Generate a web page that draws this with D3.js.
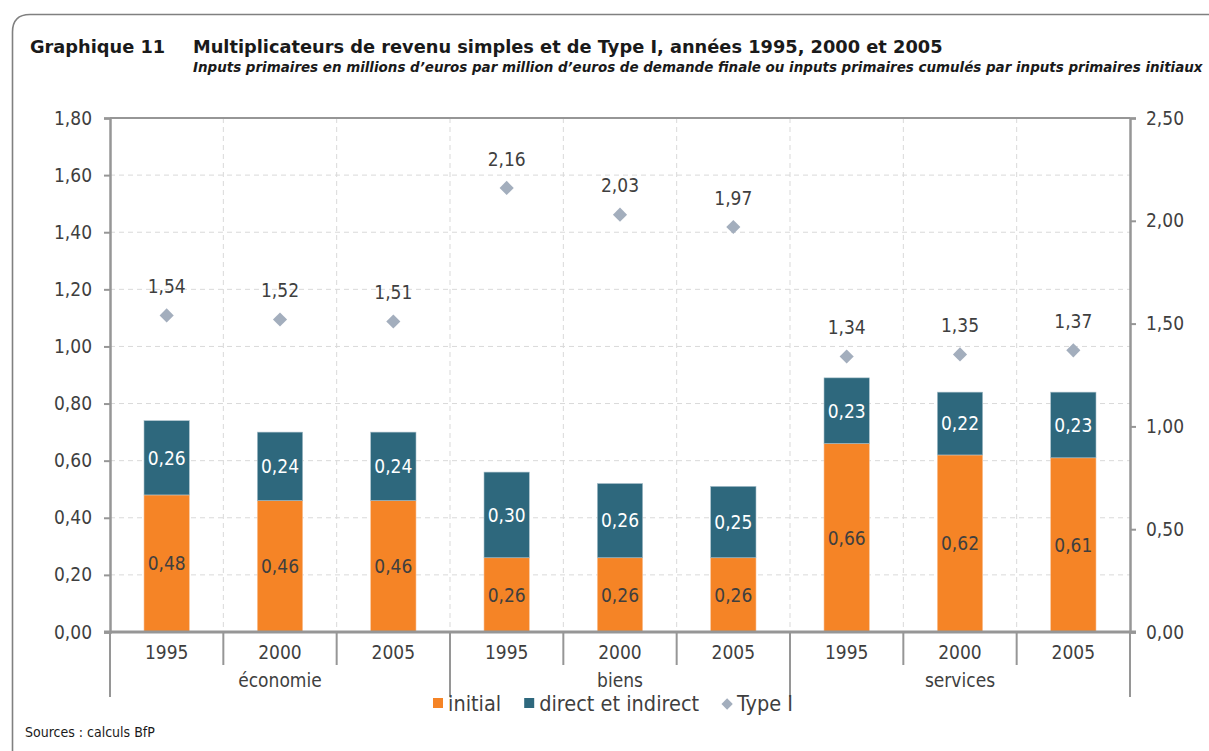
<!DOCTYPE html>
<html>
<head>
<meta charset="utf-8">
<script src="https://cdn.jsdelivr.net/npm/d3@7"></script>
<style>
  html, body { margin: 0; padding: 0; background: #fff; }
  svg { display: block; font-family: "DejaVu Sans Condensed", "DejaVu Sans", sans-serif; }
</style>
</head>
<body>
<svg id="chart" width="1209" height="751"></svg>
<script>
// Income multipliers by sector and year
const groups = ["économie", "biens", "services"];
const years = ["1995", "2000", "2005"];
const initial = [0.48, 0.46, 0.46, 0.26, 0.26, 0.26, 0.66, 0.62, 0.61];
const directIndirect = [0.26, 0.24, 0.24, 0.30, 0.26, 0.25, 0.23, 0.22, 0.23];
const typeI = [1.54, 1.52, 1.51, 2.16, 2.03, 1.97, 1.34, 1.35, 1.37];
const leftTicks = [0, 0.2, 0.4, 0.6, 0.8, 1.0, 1.2, 1.4, 1.6, 1.8];
const rightTicks = [0, 0.5, 1.0, 1.5, 2.0, 2.5];
const seriesNames = ["initial", "direct et indirect", "Type I"];

const COL_INIT = "#F58426";
const COL_DI = "#2E687D";
const COL_T1 = "#A3AEBD";
const TEXT = "#3F3F3F";
const AXIS = "#969696";
const GRID = "#D9D9D9";
const WIDE = "DejaVu Sans, sans-serif";

const svg = d3.select("#chart");
const fmt = v => v.toFixed(2).replace(".", ",");

const rows = initial.map((v, i) => ({
  i, group: groups[Math.floor(i / 3)], year: years[i % 3],
  initial: v, direct: directIndirect[i], typeI: typeI[i]
}));

// Outer frame with rounded top-left corner
svg.append("path")
  .attr("d", "M12.5,751 L12.5,32 Q12.5,14.5 30,14.5 L1209,14.5")
  .attr("fill", "none").attr("stroke", "#808080").attr("stroke-width", 1.6);

// Titles
svg.append("text").attr("x", 30).attr("y", 53).attr("font-family", WIDE)
  .attr("font-size", 17.8).attr("font-weight", "bold").attr("fill", "#1a1a1a")
  .text("Graphique 11");
svg.append("text").attr("x", 193).attr("y", 53).attr("font-family", WIDE)
  .attr("font-size", 17.8).attr("font-weight", "bold").attr("fill", "#1a1a1a")
  .text("Multiplicateurs de revenu simples et de Type I, années 1995, 2000 et 2005");
svg.append("text").attr("x", 193).attr("y", 72).attr("font-family", WIDE)
  .attr("font-size", 13.45).attr("font-weight", "bold").attr("font-style", "italic").attr("fill", "#1a1a1a")
  .text("Inputs primaires en millions d’euros par million d’euros de demande finale ou inputs primaires cumulés par inputs primaires initiaux");

// Scales
const L = 110, R = 1130, T = 118, B = 632;
const x = d3.scaleBand().domain(rows.map(d => d.i)).range([L, R]).padding(0);
const yL = d3.scaleLinear().domain([0, 1.8]).range([B, T]);
const yR = d3.scaleLinear().domain([0, 2.5]).range([B, T]);
const bw = x.bandwidth() * 0.4;

// Gridlines
const grid = svg.append("g");
grid.selectAll("line.h").data(leftTicks.filter(t => t > 0 && t < 1.8)).join("line")
  .attr("x1", L).attr("x2", R).attr("y1", d => yL(d)).attr("y2", d => yL(d))
  .attr("stroke", GRID).attr("stroke-width", 1).attr("stroke-dasharray", "5,4");
grid.selectAll("line.v").data(rows.slice(1)).join("line")
  .attr("x1", d => x(d.i)).attr("x2", d => x(d.i)).attr("y1", T).attr("y2", B)
  .attr("stroke", GRID).attr("stroke-width", 1).attr("stroke-dasharray", "5,4");
svg.append("line").attr("x1", L).attr("x2", R).attr("y1", T).attr("y2", T)
  .attr("stroke", AXIS).attr("stroke-width", 2);

// Stacked bars
const bars = svg.append("g");
bars.selectAll("rect.init").data(rows).join("rect")
  .attr("x", d => x(d.i) + (x.bandwidth() - bw) / 2).attr("width", bw)
  .attr("y", d => yL(d.initial)).attr("height", d => yL(0) - yL(d.initial))
  .attr("fill", COL_INIT).attr("stroke", "#f9c49a").attr("stroke-width", 0.6);
bars.selectAll("rect.di").data(rows).join("rect")
  .attr("x", d => x(d.i) + (x.bandwidth() - bw) / 2).attr("width", bw)
  .attr("y", d => yL(d.initial + d.direct)).attr("height", d => yL(d.initial) - yL(d.initial + d.direct))
  .attr("fill", COL_DI).attr("stroke", "#a9c0cb").attr("stroke-width", 0.6);

// Bar labels
const lab = svg.append("g").attr("font-size", 19).attr("text-anchor", "middle");
lab.selectAll("text.init").data(rows).join("text")
  .attr("x", d => x(d.i) + x.bandwidth() / 2)
  .attr("y", d => yL(d.initial / 2)).attr("dy", "0.36em")
  .attr("fill", TEXT).text(d => fmt(d.initial));
lab.selectAll("text.di").data(rows).join("text")
  .attr("x", d => x(d.i) + x.bandwidth() / 2)
  .attr("y", d => yL(d.initial + d.direct / 2)).attr("dy", "0.36em")
  .attr("fill", "#fff").text(d => fmt(d.direct));

// Type I markers on the secondary axis
const diamond = d3.symbol().type(d3.symbolSquare).size(100);
svg.append("g").selectAll("path").data(rows).join("path")
  .attr("d", diamond)
  .attr("transform", d => `translate(${x(d.i) + x.bandwidth() / 2},${yR(d.typeI)}) rotate(45)`)
  .attr("fill", COL_T1);
lab.selectAll("text.t1").data(rows).join("text")
  .attr("x", d => x(d.i) + x.bandwidth() / 2)
  .attr("y", d => yR(d.typeI) - 29).attr("dy", "0.36em")
  .attr("fill", TEXT).text(d => fmt(d.typeI));

// Value axes
const axL = svg.append("g").attr("transform", `translate(${L},0)`)
  .call(d3.axisLeft(yL).tickValues(leftTicks).tickFormat(fmt).tickSize(6).tickPadding(12));
const axR = svg.append("g").attr("transform", `translate(${R},0)`)
  .call(d3.axisRight(yR).tickValues(rightTicks).tickFormat(fmt).tickSize(6).tickPadding(10));
[axL, axR].forEach(ax => {
  ax.select(".domain").attr("stroke", AXIS).attr("stroke-width", 2.5);
  ax.selectAll(".tick line").attr("stroke", AXIS).attr("stroke-width", 2);
  ax.selectAll(".tick text").attr("fill", TEXT).attr("font-size", 19)
    .attr("font-family", "DejaVu Sans Condensed, DejaVu Sans, sans-serif");
});

// Category axis: baseline, year ticks, sector separators
const cat = svg.append("g");
cat.append("line").attr("x1", L - 6).attr("x2", R + 6).attr("y1", B).attr("y2", B)
  .attr("stroke", AXIS).attr("stroke-width", 3);
const bounds = rows.map(d => x(d.i)).concat([R]);
cat.selectAll("line.tk").data(bounds).join("line")
  .attr("x1", d => d).attr("x2", d => d).attr("y1", B)
  .attr("y2", (d, k) => (k % 3 === 0) ? 697 : 665)
  .attr("stroke", AXIS).attr("stroke-width", 2);
cat.selectAll("text.yr").data(rows).join("text")
  .attr("x", d => x(d.i) + x.bandwidth() / 2).attr("y", 659)
  .attr("text-anchor", "middle").attr("font-size", 19).attr("fill", TEXT)
  .text(d => d.year);
cat.selectAll("text.grp").data(groups).join("text")
  .attr("x", (g, k) => (x(k * 3) + x(k * 3 + 2) + x.bandwidth()) / 2).attr("y", 687)
  .attr("text-anchor", "middle").attr("font-size", 19).attr("fill", TEXT)
  .text(g => g);

// Legend
const leg = svg.append("g");
const legColors = [COL_INIT, COL_DI, COL_T1];
let lx = 433;
seriesNames.forEach((name, k) => {
  if (k < 2) {
    leg.append("rect").attr("x", lx).attr("y", 698).attr("width", 10).attr("height", 10).attr("fill", legColors[k]);
  } else {
    leg.append("path").attr("d", d3.symbol().type(d3.symbolSquare).size(64))
      .attr("transform", `translate(${lx + 5},704) rotate(45)`).attr("fill", legColors[k]);
  }
  const t = leg.append("text").attr("x", lx + 15).attr("y", 711)
    .attr("font-size", 21.5).attr("fill", TEXT).text(name);
  lx += 15 + t.node().getComputedTextLength() + 23;
});

// Source note
svg.append("text").attr("x", 25).attr("y", 737)
  .attr("font-size", 14).attr("fill", "#1a1a1a").text("Sources : calculs BfP");
</script>
</body>
</html>
